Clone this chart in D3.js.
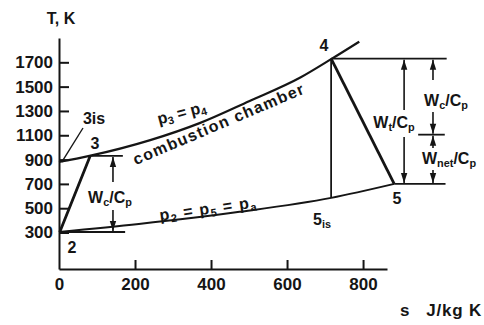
<!DOCTYPE html>
<html lang="en">
<head>
<meta charset="UTF-8">
<title>Gas turbine cycle, T-s diagram</title>
<script src="https://d3js.org/d3.v7.min.js"></script>
<style>
  body { margin: 0; background: #fff; }
  svg { display: block; }
  text { font-family: "Liberation Sans", Arial, sans-serif; font-weight: bold; fill: #151515; }
</style>
</head>
<body>
<div id="chart"></div>
<script>
// axis ticks
const sTicks = [0, 200, 400, 600, 800];
const tTicks = [300, 500, 700, 900, 1100, 1300, 1500, 1700];

// upper isobar p3 = p4
const highS = [0, 80, 240, 370, 500, 635, 718, 790];
const highT = [880, 930, 1060, 1200, 1380, 1575, 1730, 1870];

// lower isobar p2 = p5 = pa
const lowS = [0, 210, 475, 716, 882];
const lowT = [305, 370, 470, 585, 700];

// cycle state points
const stateNames = ["2", "3is", "3", "4", "5is", "5"];
const stateS = [2, 2, 82, 716, 716, 882];
const stateT = [305, 880, 930, 1730, 585, 700];

const width = 484, height = 325;
const ink = "#151515";

const svg = d3.select("#chart").append("svg")
  .attr("width", width)
  .attr("height", height);

const x = d3.scaleLinear().domain([0, 863]).range([59, 387]);
const y = d3.scaleLinear().domain([0, 1900]).range([269, 38]);

const st = {};
stateNames.forEach((n, i) => st[n] = [stateS[i], stateT[i]]);
const px = n => [x(st[n][0]), y(st[n][1])];

// axes
const xAxis = d3.axisBottom(x).tickValues(sTicks).tickFormat(d3.format("d"))
  .tickSize(-9).tickSizeOuter(0).tickPadding(9);
const yAxis = d3.axisLeft(y).tickValues(tTicks).tickFormat(d3.format("d"))
  .tickSize(-10).tickSizeOuter(0).tickPadding(6);

const gx = svg.append("g").attr("transform", `translate(0,${y(0)})`).call(xAxis);
const gy = svg.append("g").attr("transform", `translate(${x(0)},0)`).call(yAxis);
[gx, gy].forEach(g => {
  g.selectAll("path, line").attr("stroke", ink).attr("stroke-width", 2);
  g.selectAll("text").attr("fill", ink).style("font-size", "17px")
    .style("font-family", '"Liberation Sans", Arial, sans-serif').style("font-weight", "bold");
});
gx.selectAll(".tick").filter(d => d === 0).select("line").remove();

// isobars
const line = d3.line().curve(d3.curveMonotoneX);
svg.append("path")
  .attr("d", line(highS.map((s, i) => [x(s), y(highT[i])])))
  .attr("fill", "none").attr("stroke", ink).attr("stroke-width", 2.2);
svg.append("path")
  .attr("d", line(lowS.map((s, i) => [x(s), y(lowT[i])])))
  .attr("fill", "none").attr("stroke", ink).attr("stroke-width", 2);

function seg(a, b, w) {
  svg.append("line")
    .attr("x1", a[0]).attr("y1", a[1]).attr("x2", b[0]).attr("y2", b[1])
    .attr("stroke", ink).attr("stroke-width", w);
}

// compression and expansion
seg(px("2"), px("3"), 2.8);
seg(px("4"), px("5"), 2.8);
// isentropic expansion 4 -> 5is
seg(px("4"), px("5is"), 1.8);

// reference levels
seg(px("2"), [x(174), px("2")[1]], 2);
seg(px("3"), [x(168), px("3")[1]], 1.8);
seg(px("4"), [x(1020), px("4")[1]], 1.8);
seg(px("5"), [x(1017), px("5")[1]], 1.8);

// dimension arrows
function arrow(xp, from, tip) {
  seg([xp, from], [xp, tip], 1.6);
  const d = tip < from ? 1 : -1;
  svg.append("path")
    .attr("d", `M${xp},${tip} L${xp - 3.2},${tip + d * 10} L${xp + 3.2},${tip + d * 10} Z`)
    .attr("fill", ink);
}
const midT = st["4"][1] - (st["3"][1] - st["2"][1]);
const xl = x(142), xt = x(908), xc = x(984);
arrow(xl, 182, y(st["3"][1]) + 1);
arrow(xl, 210, y(st["2"][1]) - 1);
arrow(xt, 110, y(st["4"][1]) + 1);
arrow(xt, 137, y(st["5"][1]) - 1);
arrow(xc, 80, y(st["4"][1]) + 1);
arrow(xc, 112, y(midT) - 1);
arrow(xc, 148, y(midT) + 1);
arrow(xc, 170, y(st["5"][1]) - 1);
seg([x(945), y(midT)], [x(1015), y(midT)], 1.8);

// leader from 3is label
seg([83, 128], [px("3is")[0] + 2, px("3is")[1]], 1.4);

// text helper: parts = [[text, isSub], ...]
function label(tx, ty, parts, opts = {}) {
  const size = opts.size || 16;
  const t = svg.append("text")
    .attr("x", tx).attr("y", ty)
    .attr("text-anchor", opts.anchor || "middle")
    .style("font-size", size + "px");
  if (opts.rotate) t.attr("transform", `rotate(${opts.rotate},${tx},${ty})`);
  if (opts.spacing) t.style("letter-spacing", opts.spacing + "px");
  parts.forEach(([s, sub]) => {
    const sp = t.append("tspan").text(s);
    if (sub) sp.style("font-size", (size * 0.68) + "px").attr("baseline-shift", "-30%");
  });
  return t;
}

label(61, 24, [["T, K"]], { size: 16 });
label(400, 316, [["s"]], { size: 17, anchor: "start" });
label(482, 316, [["J/kg K"]], { size: 17, anchor: "end", spacing: 0.8 });

label(72, 253, [["2"]]);
label(95, 149, [["3"]]);
label(94, 124, [["3is"]]);
label(324, 51, [["4"]]);
label(397, 204, [["5"]]);
label(313, 225, [["5"], ["is", true]], { anchor: "start" });

label(110, 203, [["W"], ["c", true], ["/C"], ["p", true]]);
label(446, 106, [["W"], ["c", true], ["/C"], ["p", true]]);
label(394, 128, [["W"], ["t", true], ["/C"], ["p", true]]);
label(449, 164, [["W"], ["net", true], ["/C"], ["p", true]]);

label(183, 118, [["p"], ["3", true], [" = p"], ["4", true]], { rotate: -15, size: 16 });
label(221, 129, [["combustion chamber"]], { rotate: -23, size: 16, spacing: 1.3 });
label(209, 214, [["p"], ["2", true], [" = p"], ["5", true], [" = p"], ["a", true]], { rotate: -8, size: 16, spacing: 1.2 });
</script>
</body>
</html>
